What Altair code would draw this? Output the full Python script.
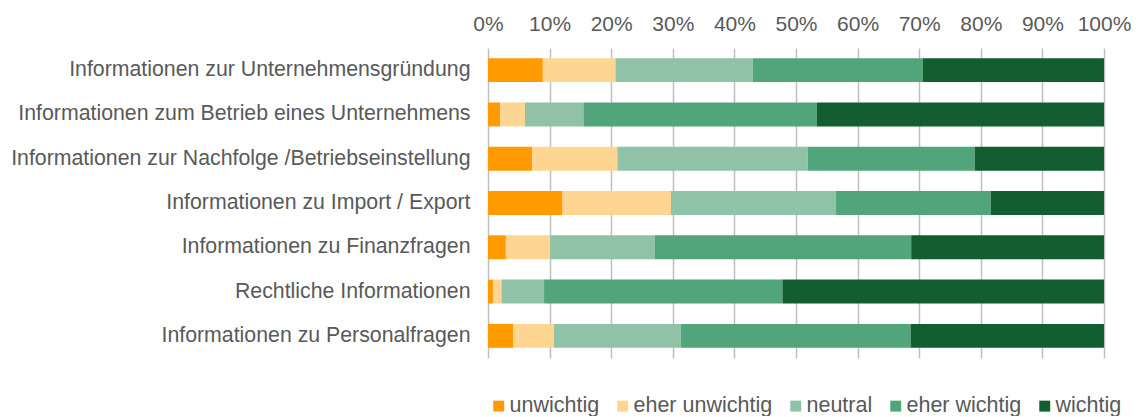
import altair as alt
import pandas as pd

categories = [
    "Informationen zur Unternehmensgründung",
    "Informationen zum Betrieb eines Unternehmens",
    "Informationen zur Nachfolge /Betriebseinstellung",
    "Informationen zu Import / Export",
    "Informationen zu Finanzfragen",
    "Rechtliche Informationen",
    "Informationen zu Personalfragen",
]
levels = ["unwichtig", "eher unwichtig", "neutral", "eher wichtig", "wichtig"]
unwichtig = [8.9, 2.0, 7.2, 12.1, 2.9, 0.8, 4.1]
eher_unwichtig = [11.8, 4.0, 13.8, 17.6, 7.2, 1.4, 6.6]
neutral = [22.3, 9.5, 30.9, 26.8, 17.0, 6.9, 20.6]
eher_wichtig = [27.6, 37.9, 27.1, 25.1, 41.6, 38.7, 37.3]
wichtig = [29.4, 46.6, 21.0, 18.4, 31.3, 52.2, 31.4]
colors = ["#FF9A00", "#FFD592", "#8FC2A6", "#52A47A", "#135E30"]
x_ticks = [0, 0.1, 0.2, 0.3, 0.4, 0.5, 0.6, 0.7, 0.8, 0.9, 1.0]

series = [unwichtig, eher_unwichtig, neutral, eher_wichtig, wichtig]
rows = []
for li, (lvl, vals) in enumerate(zip(levels, series)):
    for cat, v in zip(categories, vals):
        rows.append({"cat": cat, "level": lvl, "order": li, "value": v})
df = pd.DataFrame(rows)

font = "Liberation Sans"
gray = "#595959"

chart = alt.Chart(df).transform_stack(
    stack="value", groupby=["cat"], as_=["v0", "v1"],
    sort=[alt.SortField("order", order="ascending")], offset="normalize"
).mark_bar().encode(
    y=alt.Y("cat:N", sort=categories, title=None,
            scale=alt.Scale(paddingInner=0.46, paddingOuter=0.23),
            axis=alt.Axis(labelFont=font, labelFontSize=21.3, labelColor=gray,
                          labelPadding=18, ticks=False, domain=False,
                          labelLimit=600)),
    x=alt.X("v0:Q", title=None,
            scale=alt.Scale(domain=[0, 1], nice=False),
            axis=alt.Axis(orient="top", format=".0%", values=x_ticks,
                          labelFont=font, labelFontSize=21, labelColor=gray,
                          labelPadding=14, ticks=False, domain=False,
                          labelOverlap=False, labelFlush=False,
                          grid=True, gridColor="#BFBFBF", gridWidth=1.5)),
    x2="v1:Q",
    color=alt.Color("level:N", sort=levels,
                    scale=alt.Scale(domain=levels, range=colors),
                    legend=alt.Legend(title=None, orient="bottom",
                                      direction="horizontal",
                                      symbolType="square", symbolSize=120,
                                      symbolStrokeWidth=0,
                                      labelFont=font, labelFontSize=21.5,
                                      labelColor=gray, labelOffset=0,
                                      columnPadding=12, offset=37,
                                      labelLimit=400)),
).properties(
    width=616, height=310,
    autosize=alt.AutoSizeParams(type="none"),
    padding={"left": 480, "top": 40, "right": 27, "bottom": 58},
).configure_view(stroke=None)

chart.save("out.html", embed_options={"renderer": "svg", "actions": False})
